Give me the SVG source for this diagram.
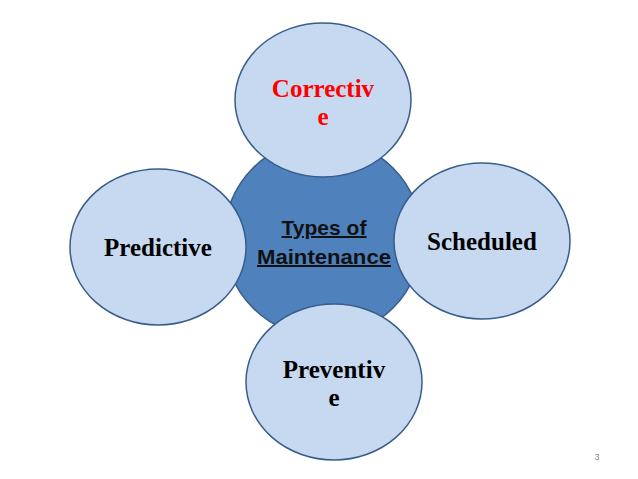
<svg xmlns="http://www.w3.org/2000/svg" width="638" height="479" viewBox="0 0 638 479">
<style>
.sat{fill:#c6d9f1;stroke:#385d8a;stroke-width:1.5}
.hub{fill:#4f81bd;stroke:#385d8a;stroke-width:1.5}
.lbl{font-family:"Liberation Serif","Times New Roman",serif;font-weight:bold;font-size:25px;text-anchor:middle;fill:#000}
.hubt{font-family:"Liberation Sans",Arial,sans-serif;font-weight:bold;font-size:20px;text-anchor:middle;fill:#111;text-decoration:underline}
</style>
<rect width="638" height="479" fill="#fff"/>
<g id="connectors"/>
<g id="hub">
<circle class="hub" cx="323" cy="238" r="99"/>
<text class="hubt" x="324" y="235" textLength="85" lengthAdjust="spacingAndGlyphs">Types of</text>
<text class="hubt" x="324" y="264" textLength="134" lengthAdjust="spacingAndGlyphs">Maintenance</text>
</g>
<g id="predictive">
<ellipse class="sat" cx="158" cy="247" rx="88" ry="78"/>
<text class="lbl" x="158" y="256">Predictive</text>
</g>
<g id="scheduled">
<ellipse class="sat" cx="482" cy="241" rx="88" ry="78"/>
<text class="lbl" x="482" y="250">Scheduled</text>
</g>
<g id="corrective">
<ellipse class="sat" cx="323" cy="100" rx="88" ry="77"/>
<text class="lbl" x="323" y="97" style="fill:#ff0000">Correctiv</text>
<text class="lbl" x="323" y="125" style="fill:#ff0000">e</text>
</g>
<g id="preventive">
<ellipse class="sat" cx="334" cy="382" rx="88" ry="78"/>
<text class="lbl" x="334" y="378">Preventiv</text>
<text class="lbl" x="334" y="406">e</text>
</g>
<text x="597" y="460" style="font-family:'Liberation Sans',Arial,sans-serif;font-size:9px;fill:#888;text-anchor:middle">3</text>
</svg>
